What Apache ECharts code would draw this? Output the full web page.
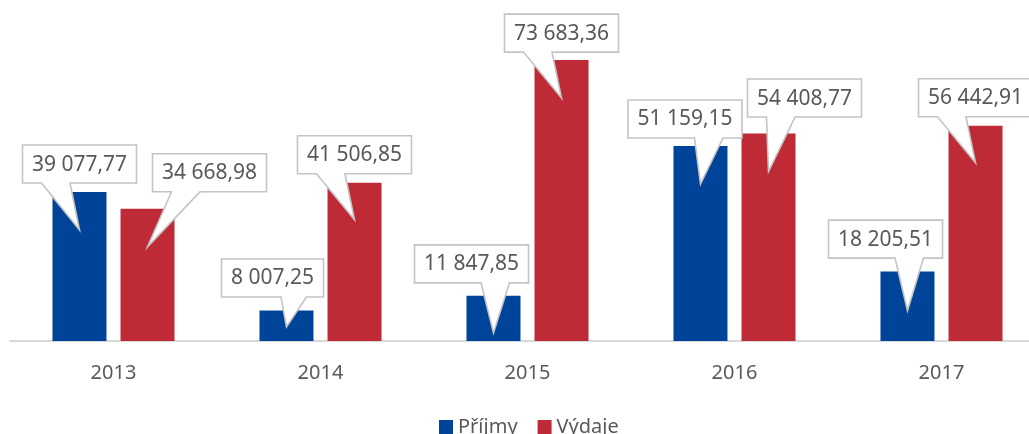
<!DOCTYPE html>
<html>
<head>
<meta charset="utf-8">
<script src="https://cdn.jsdelivr.net/npm/echarts@6/dist/echarts.min.js"></script>
<style>
html,body{margin:0;padding:0;background:#fff;overflow:hidden;width:1029px;height:434px;}
#c{width:1045px;height:434px;}
</style>
</head>
<body>
<div id="c"></div>
<script>
// ---- data ----
const years = ['2013', '2014', '2015', '2016', '2017'];
const prijmy = [39077.77, 8007.25, 11847.85, 51159.15, 18205.51];
const vydaje = [34668.98, 41506.85, 73683.36, 54408.77, 56442.91];
const seriesNames = ['Příjmy', 'Výdaje'];

// ---- callout layout (not data): [box dx from bar centre, box bottom offset from bar top, tip depth below bar top]
const calloutLayoutP = [[0, -9, 38], [-14, -13.5, 16.5], [-22, -13, 37], [-15.5, -8, 38], [-22, -13.5, 39]];
const calloutLayoutV = [[62, -17, 38], [0, -9, 37], [0, -8, 38], [36, -16.5, 38], [0, -9, 37]];

const COLORS = ['#00449a', '#be2a35'];
const TEXT = '#595959';
const FONT = '"Noto Sans", "DejaVu Sans", sans-serif';
const LABEL_SIZE = 21;
const BAR_W = 54;
const BAR_OFF = 34;

function fmt(v) {
  const parts = v.toFixed(2).split('.');
  const intp = parts[0].replace(/\B(?=(\d{3})+(?!\d))/g, ' ');
  return intp + ',' + parts[1];
}

const mctx = document.createElement('canvas').getContext('2d');
mctx.font = LABEL_SIZE + 'px ' + FONT;
function textW(s) { return mctx.measureText(s).width; }

function makeCallout(values, layout, offset) {
  return function (params, api) {
    const idx = api.value(0);
    const val = api.value(1);
    const top = api.coord([idx, val]);
    const bx = top[0] + offset;
    const by = top[1];
    const lay = layout[params.dataIndex];
    const label = fmt(values[params.dataIndex]);
    const w = Math.round(textW(label) + 19);
    const h = 38;
    const cx = bx + lay[0];
    const B = by + lay[1];
    const T = B - h;
    const L = cx - w / 2;
    const R = cx + w / 2;
    const tip = [bx, by + lay[2]];
    let xb, xc;
    if (tip[0] > cx + 0.5) { xb = L + w * 7 / 12; xc = L + w * 10 / 12; }
    else { xb = L + w * 2 / 12; xc = L + w * 5 / 12; }
    return {
      type: 'group',
      children: [
        {
          type: 'polygon',
          shape: { points: [[L, T], [R, T], [R, B], [xc, B], tip, [xb, B], [L, B]] },
          style: { fill: '#ffffff', stroke: '#c4c4c4', lineWidth: 1.6, lineJoin: 'miter' }
        },
        {
          type: 'text',
          x: cx, y: (T + B) / 2 + 0.5,
          style: {
            text: label, fill: TEXT, font: LABEL_SIZE + 'px ' + FONT,
            align: 'center', verticalAlign: 'middle'
          }
        }
      ]
    };
  };
}

const chart = echarts.init(document.getElementById('c'), null, { renderer: 'canvas' });
chart.setOption({
  animation: false,
  backgroundColor: '#ffffff',
  grid: { left: 10, right: 0, top: 36, height: 305, containLabel: false },
  legend: {
    data: seriesNames,
    left: 439,
    top: 417,
    padding: 0,
    icon: 'rect',
    itemWidth: 14,
    itemHeight: 14,
    itemGap: 20,
    textStyle: { color: TEXT, fontSize: 20, fontFamily: FONT }
  },
  xAxis: {
    type: 'category',
    data: years,
    boundaryGap: true,
    axisLine: { lineStyle: { color: '#d9d9d9', width: 2 } },
    axisTick: { show: false },
    axisLabel: { color: TEXT, fontSize: 20, fontFamily: FONT, margin: 22 }
  },
  yAxis: {
    type: 'value',
    min: 0,
    max: 80000,
    show: false,
    splitLine: { show: false }
  },
  series: [
    {
      name: seriesNames[0], type: 'bar', data: prijmy,
      barWidth: BAR_W, barGap: '26%',
      itemStyle: { color: COLORS[0] }, z: 2
    },
    {
      name: seriesNames[1], type: 'bar', data: vydaje,
      barWidth: BAR_W, barGap: '26%',
      itemStyle: { color: COLORS[1] }, z: 2
    },
    {
      name: 'lblP', type: 'custom', z: 10, clip: false,
      data: prijmy.map((v, i) => [i, v]),
      renderItem: makeCallout(prijmy, calloutLayoutP, -BAR_OFF)
    },
    {
      name: 'lblV', type: 'custom', z: 11, clip: false,
      data: vydaje.map((v, i) => [i, v]),
      renderItem: makeCallout(vydaje, calloutLayoutV, BAR_OFF)
    }
  ]
});
</script>
</body>
</html>
